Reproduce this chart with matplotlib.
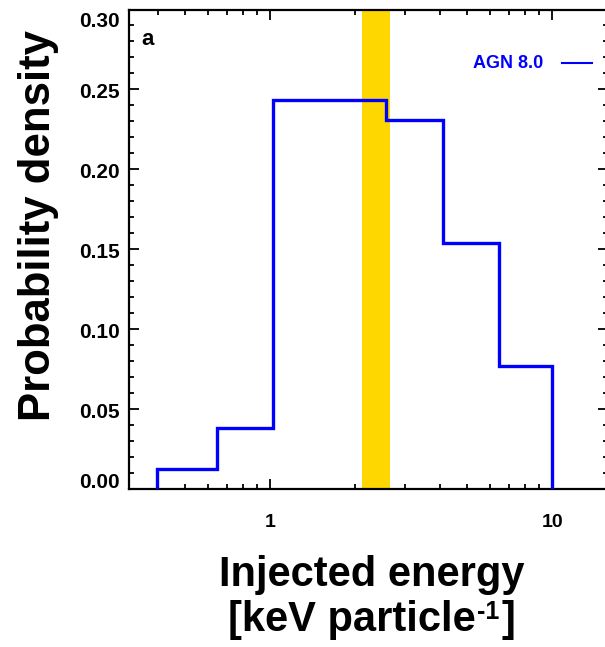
import numpy as np
import matplotlib
matplotlib.use("Agg")
import matplotlib.pyplot as plt
from matplotlib.ticker import FixedLocator, NullFormatter

plt.rcParams["font.family"] = ["Liberation Sans", "DejaVu Sans"]
plt.rcParams["font.weight"] = "bold"

# histogram of injected energy (AGN 8.0)
bin_edges = [0.395, 0.645, 1.025, 2.57, 4.09, 6.49, 10.0]
prob_density = [0.0128, 0.0385, 0.2436, 0.2308, 0.1538, 0.0769]
band_lo, band_hi = 2.12, 2.66
yticks = [0.00, 0.05, 0.10, 0.15, 0.20, 0.25, 0.30]
ytick_labels = ["0.00", "0.05", "0.10", "0.15", "0.20", "0.25", "0.30"]
series_name = "AGN 8.0"

W, H = 605, 647
fig = plt.figure(figsize=(W / 100, H / 100), dpi=100)
left, right, top, bottom = 128.5, 608.4, 9.5, 489.3
ax = fig.add_axes([left / W, 1 - bottom / H, (right - left) / W, (bottom - top) / H])

ax.axvspan(band_lo, band_hi, color="#FFD700", lw=0, zorder=1)
ax.stairs(prob_density, bin_edges, baseline=0, color="#0000FF", lw=2.4, zorder=3)

ax.set_xscale("log")
ax.set_xlim(0.314, 15.8)
ax.set_ylim(0, 0.30)

ax.xaxis.set_major_locator(FixedLocator([1, 10]))
ax.set_xticklabels(["1", "10"])
ax.xaxis.set_minor_locator(FixedLocator([0.4, 0.5, 0.6, 0.7, 0.8, 0.9, 2, 3, 4, 5, 6, 7, 8, 9]))
ax.xaxis.set_minor_formatter(NullFormatter())
ax.yaxis.set_major_locator(FixedLocator(yticks))
ax.yaxis.set_minor_locator(FixedLocator(np.arange(0, 0.301, 0.01)))
ax.set_yticklabels([])

ax.tick_params(which="both", direction="in", top=True, right=True, width=1.3, colors="black")
ax.tick_params(which="major", length=7)
ax.tick_params(which="minor", length=3.5)
ax.tick_params(axis="x", which="major", labelsize=14, pad=18)
for s in ax.spines.values():
    s.set_linewidth(1.6)

# y tick labels, shifted like the original (end labels pulled inward)
shifts = [6.3, -3, -3, -3, -3, -3, -12]
for v, lab, dy in zip(yticks, ytick_labels, shifts):
    ax.annotate(lab, xy=(0, v), xycoords=("axes fraction", "data"),
                xytext=(-6.5, dy * 0.72), textcoords="offset points",
                ha="right", va="center", fontsize=15, fontweight="bold")

ax.text(141 / W, 1 - 45 / H, "a", transform=fig.transFigure, fontsize=16,
        fontweight="bold", ha="left", va="baseline")

# legend drawn by hand like the IDL original
fig.text(543.5 / W, 1 - 67.5 / H, series_name, color="#0000FF", fontsize=13,
         fontweight="bold", ha="right", va="baseline")
fig.add_artist(plt.Line2D([561.7 / W, 591.7 / W], [1 - 62.7 / H, 1 - 62.7 / H],
                          color="#0000FF", lw=1.5))

# axis titles
fig.text(371.5 / W, 1 - 585.7 / H, "Injected energy", fontsize=30, fontweight="bold",
         ha="center", va="baseline")

# second line with a small superscript, built piece by piece then centred
r = fig.canvas.get_renderer()
pieces = [("[keV particle", 30, 631), ("-1", 18, 619), ("]", 30, 631)]
texts = []
x = 0.0
for s, fs, base in pieces:
    t = fig.text(x / W, 1 - base / H, s, fontsize=fs, fontweight="bold",
                 ha="left", va="baseline")
    x = t.get_window_extent(r).x1 + 2
    texts.append(t)
shift = 371.5 - (x - 2) / 2
for t in texts:
    px, py = t.get_position()
    t.set_position((px + shift / W, py))

fig.text(39 / W, 1 - 226 / H, "Probability density", fontsize=31.5, fontweight="bold",
         ha="center", va="center", rotation=90)

fig.savefig("out.png", dpi=100)
